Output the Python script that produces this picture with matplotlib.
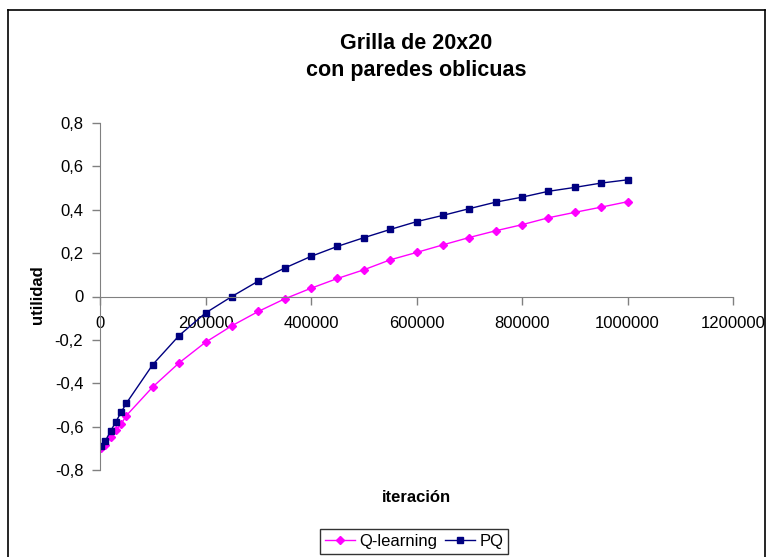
import matplotlib.pyplot as plt
from matplotlib.lines import Line2D

plt.rcParams["font.family"] = ["Liberation Sans", "DejaVu Sans"]

iteraciones = [1000, 10000, 20000, 30000, 40000, 50000, 100000, 150000, 200000,
               250000, 300000, 350000, 400000, 450000, 500000, 550000, 600000,
               650000, 700000, 750000, 800000, 850000, 900000, 950000, 1000000]
q_learning = [-0.70, -0.685, -0.649, -0.617, -0.588, -0.549, -0.417, -0.306, -0.211,
              -0.135, -0.069, -0.011, 0.038, 0.083, 0.123, 0.169, 0.203,
              0.238, 0.272, 0.303, 0.331, 0.363, 0.388, 0.412, 0.437]
pq = [-0.691, -0.666, -0.621, -0.578, -0.534, -0.492, -0.314, -0.180, -0.076,
      0.0, 0.071, 0.131, 0.185, 0.231, 0.271, 0.309, 0.345,
      0.374, 0.405, 0.435, 0.458, 0.485, 0.503, 0.523, 0.538]

y_ticks = [-0.8, -0.6, -0.4, -0.2, 0, 0.2, 0.4, 0.6, 0.8]
x_ticks = [0, 200000, 400000, 600000, 800000, 1000000, 1200000]

fig = plt.figure(figsize=(7.71, 5.57), dpi=100)
ax = fig.add_axes([100 / 771, 1 - 470 / 557, 633 / 771, 347 / 557])

ax.plot(iteraciones, q_learning, color="#FF00FF", marker="D", markersize=4,
        linewidth=1, label="Q-learning")
ax.plot(iteraciones, pq, color="#000080", marker="s", markersize=5,
        linewidth=1, label="PQ")

ax.set_xlim(0, 1200000)
ax.set_ylim(-0.8, 0.8)
ax.set_yticks(y_ticks)
ax.set_yticklabels(["0" if v == 0 else f"{v:.1f}".replace(".", ",") for v in y_ticks])
ax.set_xticks(x_ticks)
ax.set_xticklabels([str(v) for v in x_ticks])

# Excel style: x axis crosses at y = 0
ax.spines["top"].set_visible(False)
ax.spines["right"].set_visible(False)
ax.spines["bottom"].set_position(("data", 0))
ax.spines["bottom"].set_color("#808080")
ax.spines["left"].set_color("#808080")
ax.tick_params(axis="both", colors="#808080", labelcolor="black", labelsize=12,
               length=6, width=1)
ax.tick_params(axis="x", pad=8)
ax.tick_params(axis="y", pad=6)

fig.text(37.5 / 771, 1 - 295 / 557, "utilidad", fontsize=12, fontweight="bold",
         rotation=90, ha="center", va="center")
fig.text(416 / 771, 1 - 497 / 557, "iteración", fontsize=12, fontweight="bold",
         ha="center", va="center")
fig.text(416 / 771, 1 - 57 / 557, "Grilla de 20x20\ncon paredes oblicuas",
         fontsize=15.5, fontweight="bold", ha="center", va="center", linespacing=1.4)

fig.legend(loc="center", bbox_to_anchor=(414 / 771, 1 - 541.5 / 557), ncol=2,
           frameon=True, fancybox=False, edgecolor="black", fontsize=12,
           handlelength=1.8, handletextpad=0.25, columnspacing=0.5,
           borderpad=0.3, borderaxespad=0)

# outer chart frame
l, t, r = 8 / 771, 1 - 10 / 557, 765 / 771
for xs, ys in [([l, l], [t, -0.01]), ([l, r], [t, t]), ([r, r], [t, -0.01])]:
    fig.add_artist(Line2D(xs, ys, transform=fig.transFigure, color="black", linewidth=1.2))

fig.savefig("out.png", dpi=100)
